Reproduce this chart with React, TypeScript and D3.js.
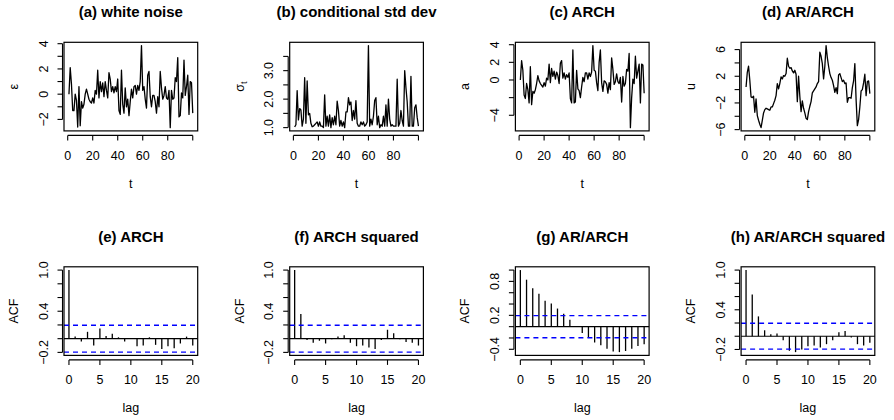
import React from 'react';
import * as d3 from 'd3';

// values (t = 1..100)
const whiteNoise = [
  0.0, 2.1, 0.8, -1.3, -1.3, 0.0, -0.5, -2.6, 0.6, -2.5,
  -0.6, -1.1, -0.8, 0.0, 0.4, 0.0, -0.4, -0.6, -0.7, -0.3,
  -0.7, 0.3, 0.0, 1.9, -0.3, 1.0, 0.2, 0.9, -0.2, 1.0,
  0.3, -0.3, 1.7, 1.2, 0.2, 0.6, 0.1, 0.6, 0.2, 1.2,
  -1.3, -1.6, 1.9, -0.8, -1.5, 0.5, -1.0, -0.4, -1.7, -0.6,
  0.4, -0.3, 0.6, 0.7, 0.0, 0.7, 0.3, 1.0, 3.85, 0.3,
  0.6, -0.4, -1.1, 1.5, 1.8, -0.2, -1.0, -0.1, -0.1, -0.6,
  -1.5, -0.2, -1.0, 1.8, 0.5, -0.4, -0.1, 0.6, -0.3, -0.4,
  0.3, -2.65, 0.3, -0.4, -0.3, 1.3, 1.0, 2.9, -1.8, -1.7,
  0.1, -0.3, 2.7, -0.1, 0.6, 1.5, -1.6, 1.0, 0.9, -1.5,
];

const condSd = [
  1.02, 1.1, 2.3, 1.27, 1.67, 1.62, 1.05, 1.3, 2.75, 1.15,
  2.64, 1.45, 1.5, 1.15, 1.03, 1.05, 1.1, 1.15, 1.2, 1.05,
  1.2, 1.05, 1.05, 1.0, 2.15, 1.05, 1.4, 1.05, 1.45, 1.0,
  1.35, 1.1, 1.4, 1.1, 1.93, 1.6, 1.05, 1.25, 1.05, 1.2,
  1.0, 1.55, 1.55, 2.05, 1.8, 1.9, 1.25, 1.6, 1.3, 1.95,
  1.15, 1.05, 1.05, 1.2, 1.1, 1.2, 1.05, 1.1, 1.2, 3.88,
  1.05, 1.3, 1.1, 1.4, 1.95, 2.05, 1.1, 1.4, 1.0, 1.1,
  1.05, 1.4, 1.05, 1.8, 1.05, 2.0, 1.3, 1.05, 1.1, 1.05,
  1.05, 1.05, 2.7, 1.05, 1.15, 1.6, 1.25, 1.05, 3.0, 2.4,
  1.9, 1.05, 1.05, 2.8, 1.05, 1.05, 1.7, 1.8, 1.35, 1.05,
];

const archSeries = [
  0.0, 2.2, 1.1, -1.7, -2.1, -0.4, -1.1, -2.6, 1.5, -2.8,
  -1.3, -1.5, -1.1, -0.4, 0.5, -0.1, -0.4, -0.6, -0.8, -0.3,
  -0.7, 0.2, 0.0, 1.8, -0.3, 1.3, 0.4, 1.0, 0.1, 0.9,
  0.5, -0.4, 1.9, 2.2, 0.2, 0.8, 0.1, 0.6, 0.3, 0.8,
  -2.1, -2.6, 3.4, -2.6, -2.5, 1.1, -1.0, -1.2, -2.0, -0.8,
  0.3, -0.2, 0.8, 0.8, 0.1, 0.8, 0.4, 0.9, 3.9, 1.1,
  1.0, -0.3, -1.2, 2.0, 3.4, -0.3, -1.3, -0.1, -0.2, -0.5,
  -1.5, -0.3, -1.1, 2.5, 1.2, -0.5, -0.2, 0.7, -0.2, -0.4,
  0.3, -2.5, 0.4, -0.7, -0.4, 1.2, 1.0, 3.0, -5.4, -2.0,
  0.1, -0.4, 2.7, 0.2, 1.0, 1.8, -2.6, 1.8, 1.7, -1.5,
];

const arArchSeries = [
  0.4, 2.6, 3.5, 1.4, -1.1, -1.2, -1.0, -3.4, -1.4, -3.9,
  -4.6, -5.2, -5.7, -4.6, -3.5, -3.0, -2.8, -2.9, -3.0, -3.1,
  -2.6, -2.6, -2.1, -1.6, -0.9, 0.9, 0.1, 0.9, 1.9, 1.6,
  2.1, 2.0, 2.4, 4.7, 3.5, 3.2, 3.3, 2.8, 2.5, 2.9,
  2.3, -1.8, 2.0, -1.0, -3.3, -1.7, -2.8, -3.5, -4.3, -4.5,
  -3.3, -2.5, -1.8, -0.5, -0.2, 0.1, 0.4, 0.9, 1.2, 5.6,
  5.0, 3.9, 1.6, 3.5, 6.6, 4.8, 3.5, 2.4, 1.8, 1.4,
  0.6, -0.4, 0.3, -0.6, 2.2, 2.4, 1.8, 1.2, 1.4, 0.9,
  1.0, -1.9, -1.2, -1.2, -1.3, 0.3, 1.3, 3.9, -1.5, -5.4,
  -4.5, -2.6, -0.2, 0.0, 1.0, 2.3, -0.9, 1.2, 1.3, -0.6,
];

// autocorrelations, lag 0..20
const acfArch = [1.0, 0.03, -0.04, 0.1, -0.1, 0.15, 0.04, 0.07, 0.02, -0.04, 0.01, -0.11, -0.1, 0.02, -0.09, -0.15, -0.11, -0.14, -0.07, 0.03, -0.1];
const acfArchSq = [1.0, 0.36, -0.02, -0.06, -0.03, -0.07, -0.01, 0.03, 0.05, -0.06, -0.11, -0.1, -0.13, -0.15, -0.02, 0.13, 0.08, -0.01, -0.05, -0.06, -0.1];
const acfArArch = [1.0, 0.83, 0.68, 0.58, 0.46, 0.41, 0.32, 0.23, 0.12, 0.0, -0.11, -0.2, -0.28, -0.33, -0.39, -0.44, -0.45, -0.43, -0.39, -0.34, -0.31];
const acfArArchSq = [1.0, 0.63, 0.3, 0.09, 0.03, 0.04, -0.06, -0.22, -0.24, -0.2, -0.15, -0.14, -0.17, -0.12, -0.06, 0.06, 0.08, -0.02, -0.12, -0.14, -0.1];
const confLimit = 0.196;

const timeTicks = [0, 20, 40, 60, 80, 100];
const timeTickLabels = [0, 20, 40, 60, 80];
const lagTicks = [0, 5, 10, 15, 20];

const FONT = '"Liberation Sans", Arial, Helvetica, sans-serif';
const BOX_LEFT = 64;
const COL_STEP = 225.7;
const BOX_W = 133.7;
const BOX_H = 88.6;
const ROW_TOPS = [42.3, 266.8];

type PanelProps = {
  col: number;
  row: number;
  title: string;
  ylab: React.ReactNode;
  kind: 'ts' | 'acf';
  values: number[];
  yTicks: number[];
  yLabels: number[];
  fmt: (v: number) => string;
};

function Panel({ col, row, title, ylab, kind, values, yTicks, yLabels, fmt }: PanelProps) {
  const x0 = BOX_LEFT + col * COL_STEP;
  const y0 = ROW_TOPS[row];
  const x1 = x0 + BOX_W;
  const y1 = y0 + BOX_H;

  // R style 4% padding on both axes
  const xDom = kind === 'ts' ? [1, values.length] : [0, values.length - 1];
  const xPad = (xDom[1] - xDom[0]) * 0.04;
  const xs = d3.scaleLinear().domain([xDom[0] - xPad, xDom[1] + xPad]).range([x0, x1]);

  const ext = d3.extent(kind === 'acf' ? values.concat([-confLimit, confLimit]) : values) as [number, number];
  const yPad = (ext[1] - ext[0]) * 0.04;
  const ys = d3.scaleLinear().domain([ext[0] - yPad, ext[1] + yPad]).range([y1, y0]);

  const xTicks = kind === 'ts' ? timeTicks : lagTicks;
  const xLabels = kind === 'ts' ? timeTickLabels : lagTicks;

  const line = d3
    .line<number>()
    .x((_, i) => xs(i + 1))
    .y((d) => ys(d));

  const axisY = y1 + 4.5;
  const axisX = x0 - 1.5;

  return (
    <g>
      <text x={(x0 + x1) / 2} y={y0 - 25} textAnchor="middle" fontWeight="bold" fontSize={15}>
        {title}
      </text>

      {kind === 'ts' ? (
        <path d={line(values) ?? ''} fill="none" stroke="#000" strokeWidth={1.3} strokeLinejoin="round" />
      ) : (
        <g>
          <line x1={x0} x2={x1} y1={ys(0)} y2={ys(0)} stroke="#000" strokeWidth={1.2} />
          {values.map((v, i) => (
            <line key={i} x1={xs(i)} x2={xs(i)} y1={ys(0)} y2={ys(v)} stroke="#000" strokeWidth={1.3} />
          ))}
          {[confLimit, -confLimit].map((c) => (
            <line
              key={c}
              x1={x0}
              x2={x1}
              y1={ys(c)}
              y2={ys(c)}
              stroke="#0000ff"
              strokeWidth={1.3}
              strokeDasharray="5 4"
            />
          ))}
        </g>
      )}

      <rect x={x0} y={y0} width={BOX_W} height={BOX_H} fill="none" stroke="#000" strokeWidth={1.2} />

      {/* x axis */}
      <line x1={xs(xTicks[0])} x2={xs(xTicks[xTicks.length - 1])} y1={axisY} y2={axisY} stroke="#000" strokeWidth={1.1} />
      {xTicks.map((t) => (
        <line key={t} x1={xs(t)} x2={xs(t)} y1={axisY} y2={axisY + 5} stroke="#000" strokeWidth={1.1} />
      ))}
      {xLabels.map((t) => (
        <text key={t} x={xs(t)} y={y1 + 29} textAnchor="middle" fontSize={12.5}>
          {t}
        </text>
      ))}
      <text x={(x0 + x1) / 2} y={y1 + 57} textAnchor="middle" fontSize={12.5}>
        {kind === 'ts' ? 't' : 'lag'}
      </text>

      {/* y axis */}
      <line
        x1={axisX}
        x2={axisX}
        y1={ys(yTicks[0])}
        y2={ys(yTicks[yTicks.length - 1])}
        stroke="#000"
        strokeWidth={1.1}
      />
      {yTicks.map((t) => (
        <line key={t} x1={axisX - 5} x2={axisX} y1={ys(t)} y2={ys(t)} stroke="#000" strokeWidth={1.1} />
      ))}
      {yLabels.map((t) => (
        <text
          key={t}
          transform={`translate(${x0 - 16.5},${ys(t)}) rotate(-90)`}
          textAnchor="middle"
          fontSize={12.5}
        >
          {fmt(t).replace('-', '\u2212')}
        </text>
      ))}
      <text transform={`translate(${x0 - 46},${(y0 + y1) / 2}) rotate(-90)`} textAnchor="middle" fontSize={12.5}>
        {ylab}
      </text>
    </g>
  );
}

const intFmt = (v: number) => d3.format('d')(v);
const decFmt = (v: number) => d3.format('.1f')(v);

export default function App() {
  const acfTicks = [-0.2, 0, 0.2, 0.4, 0.6, 0.8, 1.0];
  const acfLabels = [-0.2, 0.4, 1.0];
  return (
    <div style={{ position: 'fixed', left: 0, top: 0, background: '#fff' }}>
      <svg width={894} height={420} fontFamily={FONT} style={{ display: 'block' }}>
        <rect width={894} height={420} fill="#fff" />
        <Panel col={0} row={0} title="(a) white noise" ylab="ε" kind="ts" values={whiteNoise}
          yTicks={[-2, -1, 0, 1, 2, 3, 4]} yLabels={[-2, 0, 2, 4]} fmt={intFmt} />
        <Panel col={1} row={0} title="(b) conditional std dev"
          ylab={<>σ<tspan fontSize={9} dy={3}>t</tspan></>} kind="ts" values={condSd}
          yTicks={[1, 1.5, 2, 2.5, 3, 3.5]} yLabels={[1, 2, 3]} fmt={decFmt} />
        <Panel col={2} row={0} title="(c) ARCH" ylab="a" kind="ts" values={archSeries}
          yTicks={[-4, -2, 0, 2, 4]} yLabels={[-4, 0, 2, 4]} fmt={intFmt} />
        <Panel col={3} row={0} title="(d) AR/ARCH" ylab="u" kind="ts" values={arArchSeries}
          yTicks={[-6, -4, -2, 0, 2, 4, 6]} yLabels={[-6, -2, 2, 6]} fmt={intFmt} />
        <Panel col={0} row={1} title="(e) ARCH" ylab="ACF" kind="acf" values={acfArch}
          yTicks={acfTicks} yLabels={acfLabels} fmt={decFmt} />
        <Panel col={1} row={1} title="(f) ARCH squared" ylab="ACF" kind="acf" values={acfArchSq}
          yTicks={acfTicks} yLabels={acfLabels} fmt={decFmt} />
        <Panel col={2} row={1} title="(g) AR/ARCH" ylab="ACF" kind="acf" values={acfArArch}
          yTicks={[-0.4, -0.2, 0, 0.2, 0.4, 0.6, 0.8, 1.0]} yLabels={[-0.4, 0.2, 0.8]} fmt={decFmt} />
        <Panel col={3} row={1} title="(h) AR/ARCH squared" ylab="ACF" kind="acf" values={acfArArchSq}
          yTicks={acfTicks} yLabels={acfLabels} fmt={decFmt} />
      </svg>
    </div>
  );
}
